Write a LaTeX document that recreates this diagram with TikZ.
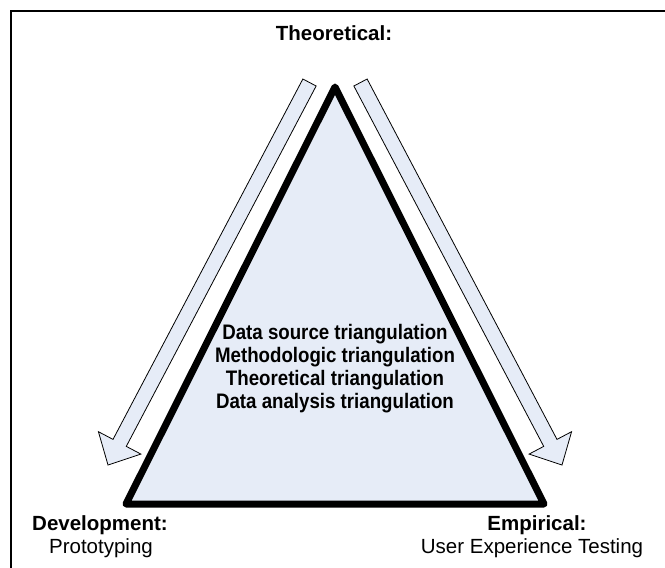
\documentclass[tikz,border=0pt]{standalone}
\usepackage{fontspec}
\setmainfont{Liberation Sans}
\newfontfamily\narrowfont[FakeStretch=0.89]{Liberation Sans}
\usetikzlibrary{calc}
\definecolor{paleblue}{RGB}{230,236,247}
\tikzset{every picture/.style={x=1pt, y=-1pt}}
\tikzset{
  flow/.style={draw=black, line width=0.8pt, fill=paleblue, line join=miter},
  cornertext/.style={anchor=base, inner sep=0pt, font=\fontsize{20.5}{23}\selectfont},
  cornerhead/.style={cornertext, font=\bfseries\fontsize{20.5}{23}\selectfont},
}
\def\shaft{7.5pt} % half width of the arrow shaft
\def\head{24pt}   % half width of the arrow head
\def\headlen{25pt}

\begin{document}
\begin{tikzpicture}
  \useasboundingbox (0,0) rectangle (665,568);
  \clip (0,0) rectangle (665,568);
  % frame, only top and left side are on the page
  \draw[line width=2.5pt] (11,11) rectangle (700,700);
  % triangle
  \coordinate (top) at (335,87);
  \coordinate (left) at (126,504);
  \coordinate (right) at (544,504);
  \draw[line width=7pt, line join=round, fill=paleblue] (top) -- (left) -- (right) -- cycle;
  % arrows along the sides
  \coordinate (lsrc) at (309.5,82.5);
  \coordinate (ltip) at (108,465);
  \coordinate (rsrc) at (360.5,82.5);
  \coordinate (rtip) at (562,465);
  \foreach \s/\t in {lsrc/ltip, rsrc/rtip} {
    \coordinate (base) at ($(\t)!\headlen!(\s)$);
    \draw[flow] ($(\s)!\shaft!90:(\t)$) -- ($(base)!\shaft!90:(\t)$)
      -- ($(base)!\head!90:(\t)$) -- (\t) -- ($(base)!\head!-90:(\t)$)
      -- ($(base)!\shaft!-90:(\t)$) -- ($(\s)!\shaft!-90:(\t)$) -- cycle;
  }
  % text
  \node[anchor=north, inner sep=0pt, align=center,
        font=\narrowfont\bfseries\fontsize{21}{23}\selectfont] (methods) at (335,324)
    {Data source triangulation\\Methodologic triangulation\\
     Theoretical triangulation\\Data analysis triangulation};
  \node[cornerhead] (theo) at (334,40) {Theoretical:};
  \node[cornerhead] (dev) at (100,530) {Development:};
  \node[cornertext] (proto) at (101,553) {Prototyping};
  \node[cornerhead] (emp) at (537,530) {Empirical:};
  \node[cornertext] (uxt) at (532,553) {User Experience Testing};
\end{tikzpicture}
\end{document}
